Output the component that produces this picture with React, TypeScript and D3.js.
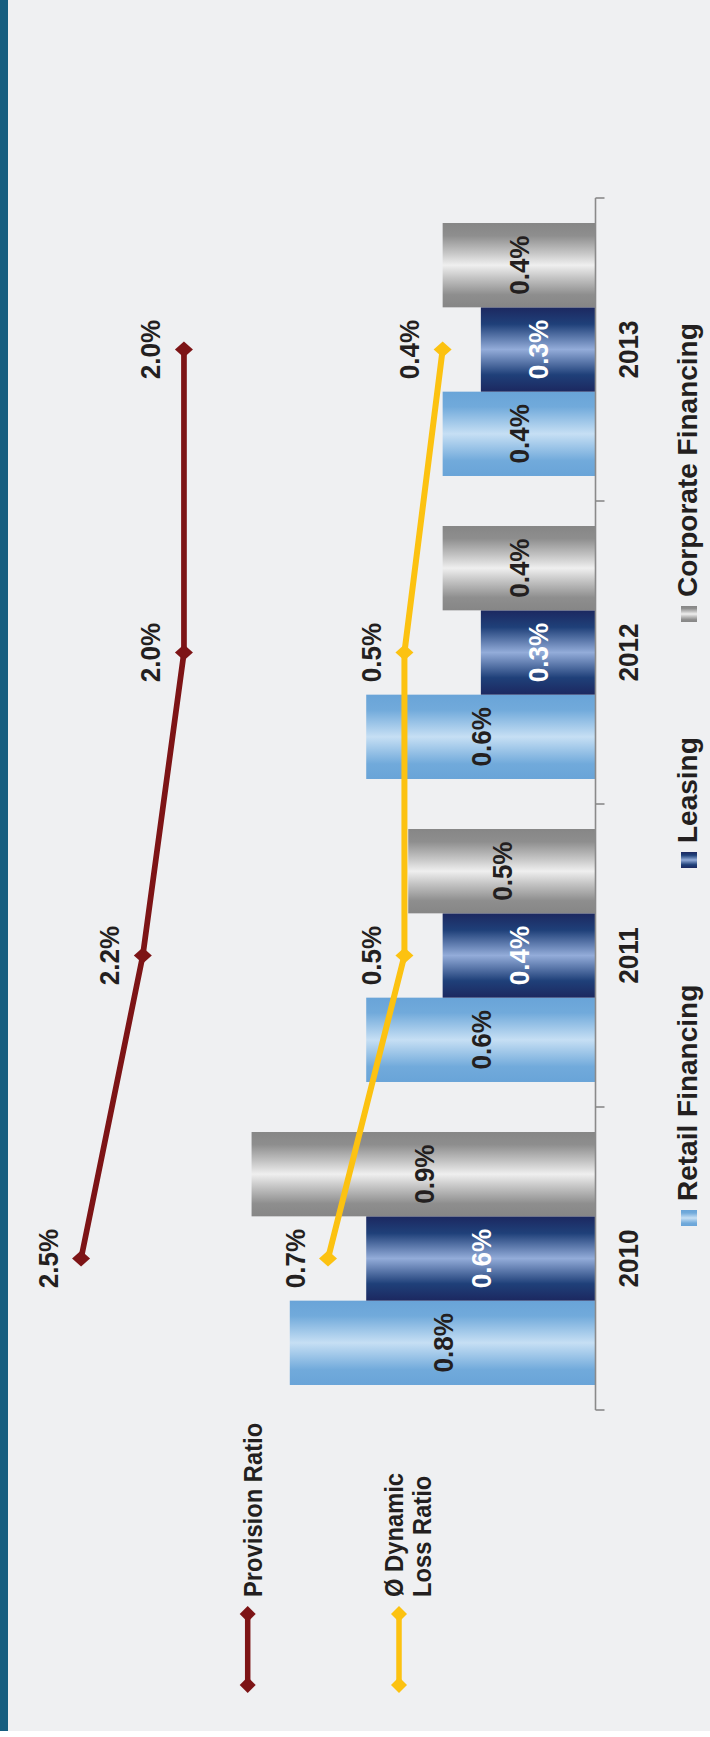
import React from "react";
import * as d3 from "d3";

// ---- data ----
const years = ["2010", "2011", "2012", "2013"];
const seriesNames = ["Retail Financing", "Leasing", "Corporate Financing"];
const retailFinancing = [0.8, 0.6, 0.6, 0.4];
const leasing = [0.6, 0.4, 0.3, 0.3];
const corporateFinancing = [0.9, 0.49, 0.4, 0.4];
const provisionRatio = [2.5, 2.2, 2.0, 2.0];
const dynamicLossRatio = [0.7, 0.5, 0.5, 0.4];

// ---- layout (chart is drawn in its own orientation, then rotated -90°) ----
const SCREEN_W = 710;
const SCREEN_H = 1737;
const FONT = "'Liberation Sans', Arial, Helvetica, sans-serif";
const TEXT = "#231f20";
const RED = "#7d1416";
const YELLOW = "#fcc211";

const seriesStyle = [
  { grad: "gRetail", label: TEXT },
  { grad: "gLeasing", label: "#ffffff" },
  { grad: "gCorp", label: TEXT },
];

const fmt = d3.format(".1f");

function Txt({ x, y, text, size, sx = 0.93, fill = TEXT, anchor = "middle", dy = "0" }) {
  return (
    <text
      transform={`translate(${x},${y}) scale(${sx},1)`}
      textAnchor={anchor}
      dy={dy}
      fontFamily={FONT}
      fontWeight="bold"
      fontSize={size}
      fill={fill}
    >
      {text}
    </text>
  );
}

function diamond(hx, hy) {
  return `M${-hx},0L0,${-hy}L${hx},0L0,${hy}Z`;
}

export default function App() {
  const baseline = 595.5;
  const x0 = d3.scaleBand().domain(years).range([327, 1539]).padding(0);
  const x1 = d3
    .scaleBand()
    .domain(seriesNames)
    .range([0, x0.bandwidth()])
    .paddingInner(0)
    .paddingOuter(0.2966);
  const y = d3.scaleLinear().domain([0, 1.4]).range([baseline, 60.5]);
  const y2 = d3.scaleLinear().domain([0, 2.6]).range([baseline, 60.5]);

  const seriesValues = [retailFinancing, leasing, corporateFinancing];
  const cx = (i) => x0(years[i]) + x0.bandwidth() / 2;

  const line = d3.line();
  const provPts = provisionRatio.map((v, i) => [cx(i), y2(v)]);
  const dynPts = dynamicLossRatio.map((v, i) => [cx(i), y(v)]);

  const tickPos = [...years.map((yr) => x0(yr)), x0.range()[1]];

  const legendX = [511, 869, 1115];

  return (
    <svg
      width={SCREEN_W}
      height={SCREEN_H}
      style={{ position: "absolute", left: 0, top: 0, display: "block" }}
    >
      <defs>
        <linearGradient id="gRetail" x1="0" y1="0" x2="1" y2="0">
          <stop offset="0" stopColor="#69a4d8" />
          <stop offset="0.18" stopColor="#71aadb" />
          <stop offset="0.5" stopColor="#c6dff4" />
          <stop offset="0.82" stopColor="#71aadb" />
          <stop offset="1" stopColor="#69a4d8" />
        </linearGradient>
        <linearGradient id="gLeasing" x1="0" y1="0" x2="1" y2="0">
          <stop offset="0" stopColor="#1c2860" />
          <stop offset="0.2" stopColor="#1f4079" />
          <stop offset="0.5" stopColor="#93acd9" />
          <stop offset="0.8" stopColor="#1f4079" />
          <stop offset="1" stopColor="#1c2860" />
        </linearGradient>
        <linearGradient id="gCorp" x1="0" y1="0" x2="1" y2="0">
          <stop offset="0" stopColor="#868686" />
          <stop offset="0.15" stopColor="#8e8e8e" />
          <stop offset="0.35" stopColor="#c4c4c4" />
          <stop offset="0.5" stopColor="#efefef" />
          <stop offset="0.65" stopColor="#c4c4c4" />
          <stop offset="0.85" stopColor="#8e8e8e" />
          <stop offset="1" stopColor="#868686" />
        </linearGradient>
      </defs>

      <rect x={0} y={0} width={SCREEN_W} height={SCREEN_H} fill="#ffffff" />
      <rect x={0} y={0} width={SCREEN_W} height={1731} fill="#eff0f2" />
      <rect x={0} y={0} width={8} height={1731} fill="#165e80" />

      <g transform={`translate(0,${SCREEN_H}) rotate(-90)`}>
        {/* bars */}
        {seriesValues.map((vals, s) =>
          vals.map((v, i) => (
            <rect
              key={`b${s}-${i}`}
              x={x0(years[i]) + x1(seriesNames[s])}
              y={y(v)}
              width={x1.bandwidth()}
              height={baseline - y(v)}
              fill={`url(#${seriesStyle[s].grad})`}
            />
          ))
        )}

        {/* bar labels */}
        {seriesValues.map((vals, s) =>
          vals.map((v, i) => (
            <Txt
              key={`bl${s}-${i}`}
              x={x0(years[i]) + x1(seriesNames[s]) + x1.bandwidth() / 2}
              y={(y(v) + baseline) / 2}
              dy="0.36em"
              text={`${fmt(v)}%`}
              size={28}
              fill={seriesStyle[s].label}
            />
          ))
        )}

        {/* category axis */}
        <line
          x1={x0.range()[0]}
          x2={x0.range()[1]}
          y1={baseline}
          y2={baseline}
          stroke="#8a8a8a"
          strokeWidth={1.6}
        />
        {tickPos.map((t, i) => (
          <line
            key={`t${i}`}
            x1={t}
            x2={t}
            y1={baseline}
            y2={baseline + 9}
            stroke="#8a8a8a"
            strokeWidth={1.6}
          />
        ))}
        {years.map((yr, i) => (
          <Txt key={`yl${i}`} x={cx(i)} y={637.5} text={yr} size={28} />
        ))}

        {/* lines */}
        <path d={line(dynPts)} fill="none" stroke={YELLOW} strokeWidth={6} strokeLinejoin="round" />
        {dynPts.map((p, i) => (
          <path key={`dm${i}`} d={diamond(8, 9)} transform={`translate(${p[0]},${p[1]})`} fill={YELLOW} />
        ))}
        {dynPts.map((p, i) => (
          <Txt key={`dl${i}`} x={p[0]} y={p[1] - 23.5} text={`${fmt(dynamicLossRatio[i])}%`} size={28} />
        ))}

        <path d={line(provPts)} fill="none" stroke={RED} strokeWidth={5.7} strokeLinejoin="round" />
        {provPts.map((p, i) => (
          <path key={`pm${i}`} d={diamond(8, 9)} transform={`translate(${p[0]},${p[1]})`} fill={RED} />
        ))}
        {provPts.map((p, i) => (
          <Txt key={`pl${i}`} x={p[0]} y={p[1] - 23.5} text={`${fmt(provisionRatio[i])}%`} size={28} />
        ))}

        {/* bar legend */}
        {seriesNames.map((name, s) => (
          <g key={`lg${s}`}>
            <rect x={legendX[s]} y={681} width={16} height={16} fill={`url(#${seriesStyle[s].grad})`} />
            <Txt x={legendX[s] + 25} y={697} text={name} size={28} sx={1} anchor="start" />
          </g>
        ))}

        {/* line legend */}
        <line x1={52} x2={123} y1={247.7} y2={247.7} stroke={RED} strokeWidth={5.5} />
        <path d={diamond(8, 8)} transform="translate(52,247.7)" fill={RED} />
        <path d={diamond(8, 8)} transform="translate(123,247.7)" fill={RED} />
        <Txt x={140} y={261.7} text="Provision Ratio" size={25} sx={0.95} anchor="start" />

        <line x1={52} x2={123} y1={399} y2={399} stroke={YELLOW} strokeWidth={5.5} />
        <path d={diamond(8, 8)} transform="translate(52,399)" fill={YELLOW} />
        <path d={diamond(8, 8)} transform="translate(123,399)" fill={YELLOW} />
        <Txt x={140} y={402.5} text="Ø Dynamic" size={25} sx={0.95} anchor="start" />
        <Txt x={140} y={430.7} text="Loss Ratio" size={25} sx={0.95} anchor="start" />
      </g>
    </svg>
  );
}
